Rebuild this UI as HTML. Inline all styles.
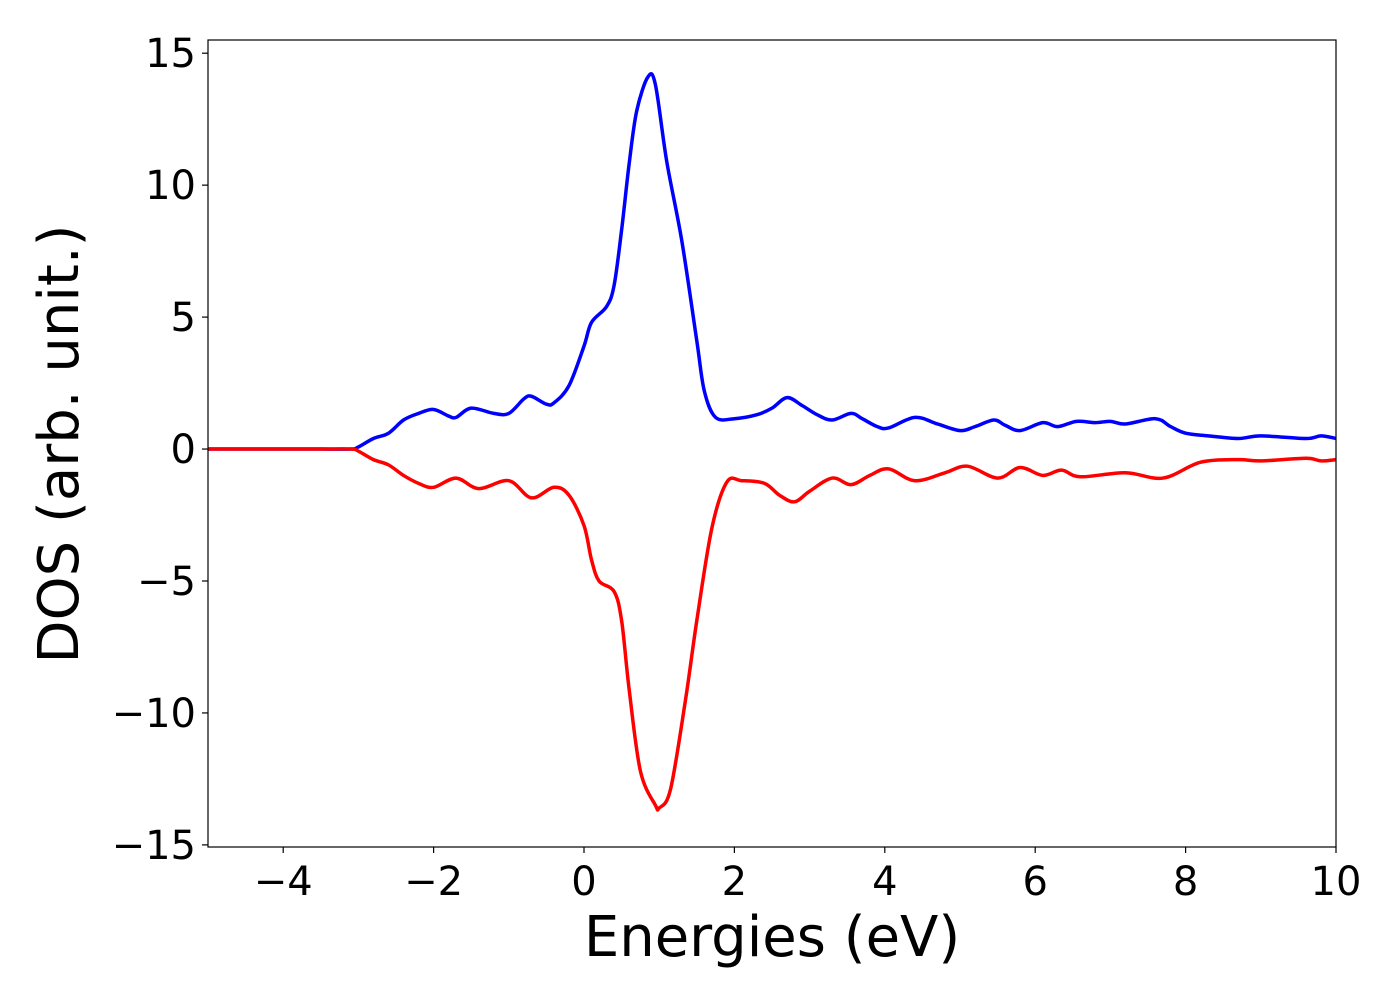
<!DOCTYPE html>
<html><head><meta charset="utf-8"><style>
html,body{margin:0;padding:0;background:#fff;}
svg{display:block;font-family:"DejaVu Sans","Liberation Sans",sans-serif;}
</style></head><body>
<svg id="chart" width="1400" height="1000"></svg>
<script>
const energiesUp=[-5,-4,-3.5,-3.1,-3.0,-2.8,-2.6,-2.4,-2.2,-2.0,-1.8,-1.7,-1.5,-1.2,-1.0,-0.8,-0.7,-0.5,-0.4,-0.2,0.0,0.1,0.3,0.4,0.5,0.6,0.7,0.85,0.95,1.1,1.3,1.5,1.6,1.75,2.0,2.3,2.5,2.7,2.9,3.1,3.3,3.55,3.7,3.9,4.05,4.4,4.7,5.0,5.2,5.45,5.6,5.8,6.1,6.3,6.55,6.8,7.0,7.2,7.6,7.8,8.0,8.3,8.7,9.0,9.6,9.8,10];
const dosUp=[0,0,0,0,0.08,0.4,0.6,1.1,1.35,1.5,1.25,1.2,1.55,1.35,1.35,1.9,2.0,1.7,1.75,2.4,3.9,4.8,5.4,6.2,8.3,10.8,12.8,14.1,13.8,10.9,7.9,4.1,2.2,1.2,1.15,1.3,1.55,1.95,1.65,1.3,1.1,1.35,1.15,0.85,0.8,1.2,0.95,0.7,0.85,1.1,0.9,0.7,1.0,0.85,1.05,1.0,1.05,0.95,1.15,0.85,0.6,0.5,0.4,0.5,0.4,0.5,0.4];
const energiesDown=[-5,-4,-3.5,-3.1,-3.0,-2.8,-2.6,-2.4,-2.2,-2.0,-1.7,-1.4,-1.0,-0.7,-0.4,-0.2,0.0,0.1,0.2,0.4,0.5,0.6,0.75,0.95,1.0,1.15,1.35,1.5,1.7,1.9,2.1,2.4,2.6,2.8,3.0,3.3,3.55,3.8,4.05,4.4,4.8,5.1,5.5,5.8,6.1,6.35,6.6,7.2,7.7,8.2,8.7,9.0,9.6,9.8,10];
const dosDown=[0,0,0,0,-0.08,-0.4,-0.6,-1.0,-1.3,-1.45,-1.1,-1.5,-1.2,-1.85,-1.45,-1.75,-2.9,-4.2,-5.0,-5.4,-6.5,-9.1,-12.2,-13.5,-13.6,-12.9,-9.5,-6.5,-3.0,-1.25,-1.2,-1.3,-1.75,-2.0,-1.6,-1.1,-1.35,-1.0,-0.75,-1.2,-0.9,-0.65,-1.1,-0.7,-1.0,-0.8,-1.05,-0.9,-1.1,-0.5,-0.4,-0.45,-0.35,-0.45,-0.4];
const xTicks=[-4,-2,0,2,4,6,8,10];
const yTicks=[-15,-10,-5,0,5,10,15];
const xTickLabels=["\u22124","\u22122","0","2","4","6","8","10"];
const yTickLabels=["\u221215","\u221210","\u22125","0","5","10","15"];

const L=208,R=1336,T=40,B=847,xMin=-5,xMax=10,yMin=-15.08,yMax=15.5;
const sx=v=>L+(v-xMin)/(xMax-xMin)*(R-L);
const sy=v=>B-(v-yMin)/(yMax-yMin)*(B-T);
const svg=document.getElementById('chart');
const NS='http://www.w3.org/2000/svg';
function mk(tag,attrs){const e=document.createElementNS(NS,tag);for(const k in attrs)e.setAttribute(k,attrs[k]);return e;}
const clip=mk('clipPath',{id:'pc'});clip.appendChild(mk('rect',{x:L,y:T,width:R-L,height:B-T}));svg.appendChild(clip);
function path(xs,ys){
  const p=xs.map((x,i)=>[sx(x),sy(ys[i])]);
  let d='M'+p[0][0]+','+p[0][1];
  for(let i=0;i<p.length-1;i++){
    const p0=p[Math.max(0,i-1)],p1=p[i],p2=p[i+1],p3=p[Math.min(p.length-1,i+2)];
    const c1=[p1[0]+(p2[0]-p0[0])/6,p1[1]+(p2[1]-p0[1])/6];
    const c2=[p2[0]-(p3[0]-p1[0])/6,p2[1]-(p3[1]-p1[1])/6];
    d+=' C'+c1[0]+','+c1[1]+' '+c2[0]+','+c2[1]+' '+p2[0]+','+p2[1];
  }
  return d;
}
const up=mk('path',{d:path(energiesUp,dosUp),fill:'none',stroke:'#0000ff','stroke-width':3.5,'clip-path':'url(#pc)'});


svg.appendChild(up);
const dn=mk('path',{d:path(energiesDown,dosDown),fill:'none',stroke:'#ff0000','stroke-width':3.5,'clip-path':'url(#pc)'});


svg.appendChild(dn);
const frame=mk('rect',{x:L,y:T,width:R-L,height:B-T,fill:'none',stroke:'#000','stroke-width':1.2});


svg.appendChild(frame);
xTicks.forEach((v,i)=>{
  const x=sx(v);
  const t=mk('line',{x1:x,x2:x,y1:B,y2:B+6,stroke:'#000','stroke-width':1.2});
  
  
  svg.appendChild(t);
  const tx=mk('text',{x:x,y:B+48,'text-anchor':'middle','font-size':40});
  tx.textContent=xTickLabels[i];
  
  
  svg.appendChild(tx);
});
yTicks.forEach((v,i)=>{
  const y=sy(v);
  const t=mk('line',{x1:L-6,x2:L,y1:y,y2:y,stroke:'#000','stroke-width':1.2});
  
  
  svg.appendChild(t);
  const tx=mk('text',{x:L-12,y:y+14,'text-anchor':'end','font-size':40});
  tx.textContent=yTickLabels[i];
  
  
  svg.appendChild(tx);
});
</script>
<svg style="position:absolute;left:0;top:0" width="1400" height="1000">
<text x="772" y="956" text-anchor="middle" font-size="56" font-family="DejaVu Sans, Liberation Sans, sans-serif">Energies (eV)</text>
<text transform="translate(78,444) rotate(-90)" text-anchor="middle" font-size="56" font-family="DejaVu Sans, Liberation Sans, sans-serif">DOS (arb. unit.)</text>
</svg>
</body></html>
